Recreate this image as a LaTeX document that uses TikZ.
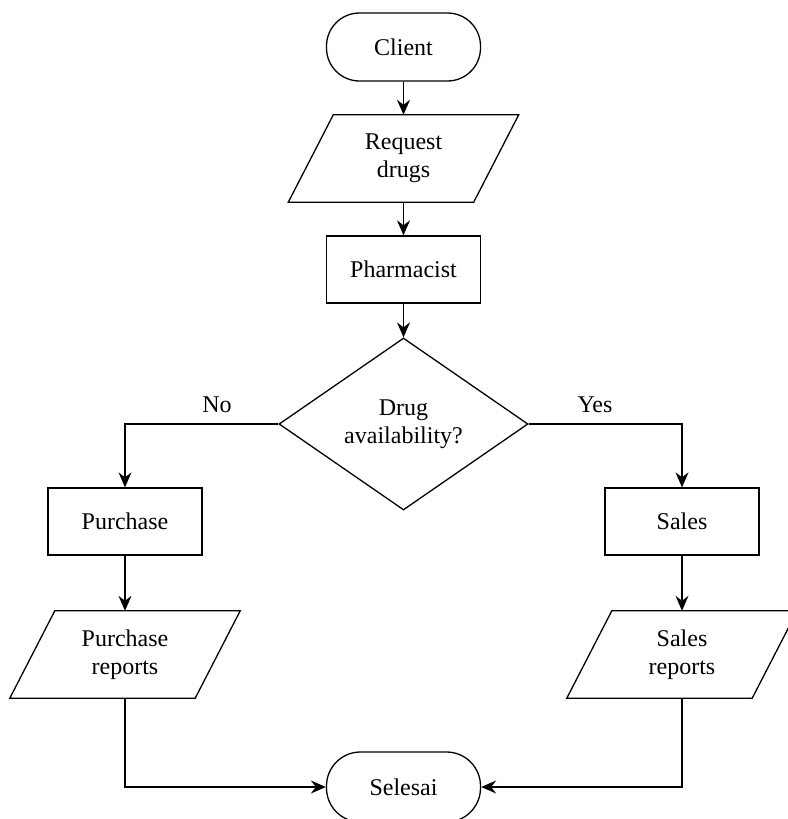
\documentclass[tikz,border=0pt]{standalone}
\usepackage{fontspec}
\setmainfont{Liberation Serif}
\usetikzlibrary{shapes.geometric,arrows.meta,calc}
\begin{document}
\begin{tikzpicture}[x=1pt,y=-1pt,
  every node/.style={font=\fontsize{24}{27.6}\selectfont, align=center},
  lw/.style={line width=1.3pt},
  term/.style={lw, draw, rectangle, rounded corners=33pt, minimum width=154pt, minimum height=68pt, inner sep=0pt},
  proc/.style={lw, draw, rectangle, minimum width=154pt, minimum height=67pt, inner sep=0pt},
  iobox/.style={rectangle, minimum width=230pt, minimum height=87pt, inner sep=0pt},
  decis/.style={lw, draw, diamond, minimum width=249pt, minimum height=172pt, inner sep=0pt},
  conn/.style={lw, -{Stealth[length=15pt,width=13pt,inset=5pt]}},
  lbl/.style={inner sep=0pt}
]
\useasboundingbox (0,0) rectangle (787,819);
\node[term] (client) at (403.5,47) {Client};
\node[iobox] (request) at (403.5,158.5) {Request\\drugs};
\node[proc] (pharm) at (403.5,269.5) {Pharmacist};
\node[decis] (dec) at (403.5,424) {Drug\\availability?};
\node[proc] (purchase) at (125,521.5) {Purchase};
\node[proc] (sales) at (682,521.5) {Sales};
\node[iobox] (preports) at (125,654.5) {Purchase\\reports};
\node[iobox] (sreports) at (682,654.5) {Sales\\reports};
\node[term, minimum height=70pt, rounded corners=34pt] (selesai) at (403.5,787) {Selesai};
\foreach \n in {request,preports,sreports}{
  \draw[lw] ($(\n.north west)+(45pt,0pt)$) -- (\n.north east) -- ($(\n.south east)+(-45pt,0pt)$) -- (\n.south west) -- cycle;
}
\node[lbl] (nolbl) at (217,405) {No};
\node[lbl] (yeslbl) at (595,405) {Yes};
\draw[conn] (client.south) -- (request.north);
\draw[conn] (request.south) -- (pharm.north);
\draw[conn] (pharm.south) -- (dec.north);
\draw[conn] (dec.west) -| (purchase.north);
\draw[conn] (dec.east) -| (sales.north);
\draw[conn] (purchase.south) -- (preports.north);
\draw[conn] (sales.south) -- (sreports.north);
\draw[conn] (preports.south) |- (selesai.west);
\draw[conn] (sreports.south) |- (selesai.east);
\end{tikzpicture}
\end{document}
